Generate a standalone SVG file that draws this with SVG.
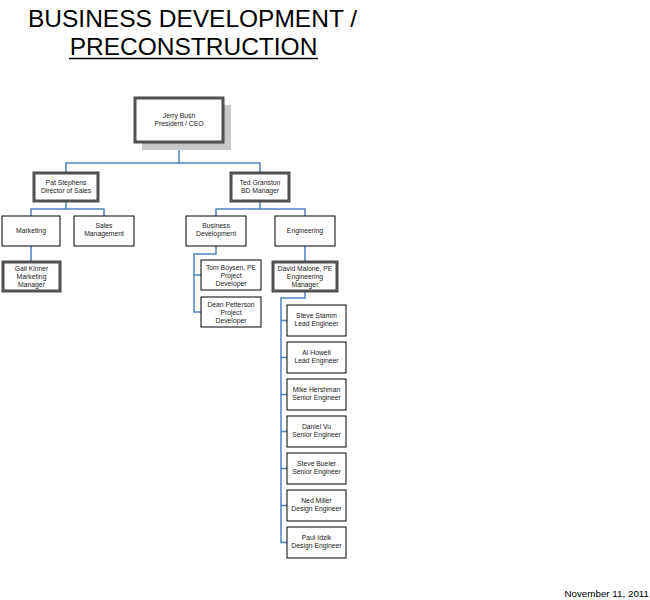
<svg xmlns="http://www.w3.org/2000/svg" width="650" height="600" viewBox="0 0 650 600">
<style>
text{font-family:"Liberation Sans",Arial,sans-serif;fill:#000}
.t{font-size:6.8px;text-anchor:middle;fill:#1a1a1a}
.title{font-size:24.5px;text-anchor:middle}
.box{fill:#fff;stroke:#000;stroke-width:1}
.mgr{fill:#fff;stroke:#222;stroke-width:2.8}
.mgri{fill:none;stroke:#8c8c8c;stroke-width:0.9}
.c{fill:none;stroke:#4f81bd;stroke-width:1.5}
</style>
<rect width="650" height="600" fill="#fff"/>
<g id="title">
<text class="title" x="192.5" y="27">BUSINESS DEVELOPMENT /</text>
<text class="title" x="193.5" y="55">PRECONSTRUCTION</text>
<line x1="69" y1="58.5" x2="318" y2="58.5" stroke="#000" stroke-width="1.5"/>
</g>
<g id="connectors">
<path class="c" d="M179,142V163M66,173V163H260V173"/>
<path class="c" d="M66,201V209M31,216V209H104V216"/>
<path class="c" d="M31,246V262"/>
<path class="c" d="M260,201V209M216,216V209H305V216"/>
<path class="c" d="M216,246V254H194V312H201M194,275H201"/>
<path class="c" d="M305,246V262"/>
<path class="c" d="M305,291V298H281V542.5H287M281,320.5H287M281,357.5H287M281,394.5H287M281,431.5H287M281,468.5H287M281,505.5H287"/>
</g>
<g id="ceo">
<rect x="142" y="105" width="89" height="45" fill="#c8c8c8"/>
<rect class="mgr" x="135" y="98" width="88" height="44"/>
<rect class="mgri" x="135" y="98" width="88" height="44"/>
<text class="t" x="179" y="118">Jerry Bush</text>
<text class="t" x="179" y="126">President / CEO</text>
</g>
<g id="pat">
<rect class="mgr" x="34" y="173" width="64" height="28"/>
<rect class="mgri" x="34" y="173" width="64" height="28"/>
<text class="t" x="66" y="185">Pat Stephens</text>
<text class="t" x="66" y="193">Director of Sales</text>
</g>
<g id="ted">
<rect class="mgr" x="231" y="173" width="58" height="28"/>
<rect class="mgri" x="231" y="173" width="58" height="28"/>
<text class="t" x="260" y="185">Ted Granston</text>
<text class="t" x="260" y="193">BD Manager</text>
</g>
<g id="marketing">
<rect class="box" x="2" y="216" width="58" height="30"/>
<text class="t" x="31" y="233">Marketing</text>
</g>
<g id="sales">
<rect class="box" x="74" y="216" width="60" height="30"/>
<text class="t" x="104" y="228">Sales</text>
<text class="t" x="104" y="236">Management</text>
</g>
<g id="gail">
<rect class="mgr" x="3" y="262" width="57" height="29"/>
<rect class="mgri" x="3" y="262" width="57" height="29"/>
<text class="t" x="31.5" y="271">Gail Kinner</text>
<text class="t" x="31.5" y="279">Marketing</text>
<text class="t" x="31.5" y="287">Manager</text>
</g>
<g id="bizdev">
<rect class="box" x="186" y="216" width="60" height="30"/>
<text class="t" x="216" y="228">Business</text>
<text class="t" x="216" y="236">Development</text>
</g>
<g id="engineering">
<rect class="box" x="275" y="216" width="60" height="30"/>
<text class="t" x="305" y="233">Engineering</text>
</g>
<g id="tom">
<rect class="box" x="201" y="260" width="60" height="30"/>
<text class="t" x="231" y="270">Tom Boysen, PE</text>
<text class="t" x="231" y="278">Project</text>
<text class="t" x="231" y="286">Developer</text>
</g>
<g id="dean">
<rect class="box" x="201" y="297" width="60" height="30"/>
<text class="t" x="231" y="307">Dean Petterson</text>
<text class="t" x="231" y="315">Project</text>
<text class="t" x="231" y="323">Developer</text>
</g>
<g id="david">
<rect class="mgr" x="273" y="262" width="64" height="29"/>
<rect class="mgri" x="273" y="262" width="64" height="29"/>
<text class="t" x="305" y="271">David Malone, PE</text>
<text class="t" x="305" y="279">Engineering</text>
<text class="t" x="305" y="287">Manager</text>
</g>
<g id="stamm">
<rect class="box" x="287" y="305" width="59" height="31"/>
<text class="t" x="316.5" y="318">Steve Stamm</text>
<text class="t" x="316.5" y="326">Lead  Engineer</text>
</g>
<g id="howell">
<rect class="box" x="287" y="342" width="59" height="31"/>
<text class="t" x="316.5" y="355">Al Howell</text>
<text class="t" x="316.5" y="363">Lead Engineer</text>
</g>
<g id="hershman">
<rect class="box" x="287" y="379" width="59" height="31"/>
<text class="t" x="316.5" y="392">Mike Hershman</text>
<text class="t" x="316.5" y="400">Senior Engineer</text>
</g>
<g id="vu">
<rect class="box" x="287" y="416" width="59" height="31"/>
<text class="t" x="316.5" y="429">Daniel Vu</text>
<text class="t" x="316.5" y="437">Senior Engineer</text>
</g>
<g id="bueler">
<rect class="box" x="287" y="453" width="59" height="31"/>
<text class="t" x="316.5" y="466">Steve Bueler</text>
<text class="t" x="316.5" y="474">Senior Engineer</text>
</g>
<g id="miller">
<rect class="box" x="287" y="490" width="59" height="31"/>
<text class="t" x="316.5" y="503">Ned Miller</text>
<text class="t" x="316.5" y="511">Design Engineer</text>
</g>
<g id="idzik">
<rect class="box" x="287" y="527" width="59" height="31"/>
<text class="t" x="316.5" y="540">Paul Idzik</text>
<text class="t" x="316.5" y="548">Design Engineer</text>
</g>
<g id="date">
<text x="649" y="597" style="font-size:9.8px;text-anchor:end">November 11, 2011</text>
</g>
</svg>
